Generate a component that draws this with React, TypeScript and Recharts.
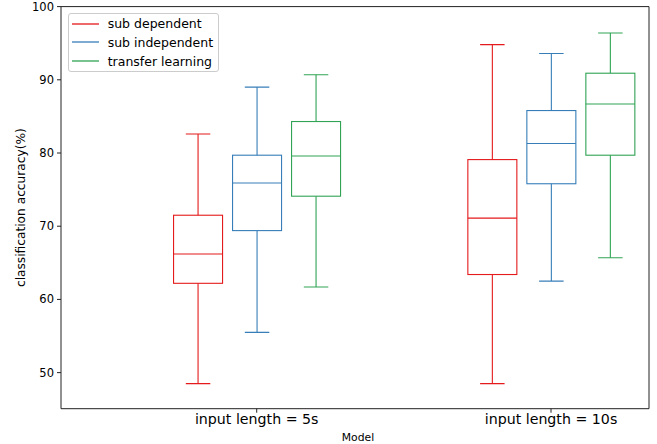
import React from 'react';
import { ComposedChart, Bar, XAxis, YAxis, Legend, ReferenceLine } from 'recharts';

const FONT = '"DejaVu Sans", sans-serif';

const groups = ['input length = 5s', 'input length = 10s'];
const groupPos = [0, 1];
const yTicks = [50, 60, 70, 80, 90, 100];

// [min, q1, median, q3, max] for each group
const subDependent = [
  [48.5, 62.2, 66.2, 71.5, 82.6],
  [48.5, 63.4, 71.1, 79.1, 94.8],
];
const subIndependent = [
  [55.5, 69.4, 75.9, 79.7, 89.0],
  [62.5, 75.8, 81.3, 85.8, 93.6],
];
const transferLearning = [
  [61.7, 74.1, 79.6, 84.3, 90.7],
  [65.7, 79.7, 86.7, 90.9, 96.4],
];

const series = [
  { key: 'dep', name: 'sub dependent', color: '#e41a1c', stats: subDependent },
  { key: 'indep', name: 'sub independent', color: '#377eb8', stats: subIndependent },
  { key: 'transfer', name: 'transfer learning', color: '#31a354', stats: transferLearning },
];

// one row per group, each series as a [min, max] range plus its full stats
const data = groupPos.map((x, i) => {
  const row: any = { x };
  series.forEach((s) => {
    row[s.key] = [s.stats[i][0], s.stats[i][4]];
    row[s.key + 'Stats'] = s.stats[i];
  });
  return row;
});

const boxShape = (key: string, color: string) => (props: any) => {
  const { x, y, width, height, payload } = props;
  const st = payload && payload[key + 'Stats'];
  if (!st || width == null || y == null) return null;
  const top = Math.min(y, y + height);
  const bottom = Math.max(y, y + height);
  const [lo, q1, med, q3, hi] = st;
  // same linear mapping as the y scale, anchored on the bar ends
  const py = (v: number) => bottom - ((v - lo) / (hi - lo)) * (bottom - top);
  const cx = x + width / 2;
  const cap = width / 4;
  return (
    <g stroke={color} strokeWidth={1.1} fill="none">
      <line x1={cx} x2={cx} y1={py(hi)} y2={py(q3)} />
      <line x1={cx} x2={cx} y1={py(q1)} y2={py(lo)} />
      <line x1={cx - cap} x2={cx + cap} y1={py(hi)} y2={py(hi)} />
      <line x1={cx - cap} x2={cx + cap} y1={py(lo)} y2={py(lo)} />
      <rect x={x} y={py(q3)} width={width} height={py(q1) - py(q3)} />
      <line x1={x} x2={x + width} y1={py(med)} y2={py(med)} />
    </g>
  );
};

const LegendBox = () => (
  <div
    style={{
      border: '1px solid #ccc',
      borderRadius: 3,
      background: 'rgba(255,255,255,0.8)',
      padding: '0 4px 1px 3px',
      width: 151,
      boxSizing: 'border-box',
      fontFamily: FONT,
      fontSize: 12.5,
      color: '#000',
    }}
  >
    {series.map((s) => (
      <div key={s.key} style={{ display: 'flex', alignItems: 'center', height: 18.7 }}>
        <svg width={27} height={4} style={{ marginRight: 9, display: 'block' }}>
          <line x1={0} x2={27} y1={2} y2={2} stroke={s.color} strokeWidth={1.3} />
        </svg>
        <span>{s.name}</span>
      </div>
    ))}
  </div>
);

export default function App() {
  return (
    <div style={{ position: 'absolute', left: 0, top: 0, width: 657, height: 444, background: '#fff' }}>
      <ComposedChart
        width={657}
        height={444}
        data={data}
        margin={{ top: 6.6, right: 8, bottom: 0, left: 0 }}
        barSize={49}
        barGap={10}
      >
        <XAxis
          type="number"
          dataKey="x"
          domain={[-0.665, 1.333]}
          ticks={groupPos}
          tickFormatter={(v: number) => groups[v] ?? ''}
          height={35.3}
          tickSize={4}
          tickMargin={1}
          stroke="#222"
          tick={{ fill: '#000', fontSize: 14.2, fontFamily: FONT }}
          label={(p: any) => {
            const vb = p.viewBox || {};
            return (
              <text x={(vb.x ?? 61) + (vb.width ?? 588) / 2 + 3} y={441} textAnchor="middle" fontSize={10.8} fontFamily={FONT} fill="#000">
                Model
              </text>
            );
          }}
        />
        <YAxis
          type="number"
          domain={[45.07, 100]}
          ticks={yTicks}
          allowDataOverflow
          width={61}
          tickSize={4}
          tickMargin={3}
          stroke="#222"
          tick={{ fill: '#000', fontSize: 11.5, fontFamily: FONT }}
          label={(p: any) => {
            const vb = p.viewBox || {};
            const cy = (vb.y ?? 6.6) + (vb.height ?? 402) / 2;
            return (
              <text x={21} y={cy} transform={`rotate(-90 21 ${cy})`} textAnchor="middle" dominantBaseline="central" fontSize={12.2} fontFamily={FONT} fill="#000">
                classification accuracy(%)
              </text>
            );
          }}
        />
        <ReferenceLine y={100} stroke="#222" />
        <ReferenceLine x={1.333} stroke="#222" />
        <Legend
          layout="vertical"
          align="center"
          verticalAlign="middle"
          wrapperStyle={{ left: 67.7, top: 13.3, width: 151 }}
          content={LegendBox}
        />
        {series.map((s) => (
          <Bar
            key={s.key}
            dataKey={s.key}
            name={s.name}
            fill={s.color}
            legendType="plainline"
            shape={boxShape(s.key, s.color)}
            isAnimationActive={false}
          />
        ))}
      </ComposedChart>
    </div>
  );
}
